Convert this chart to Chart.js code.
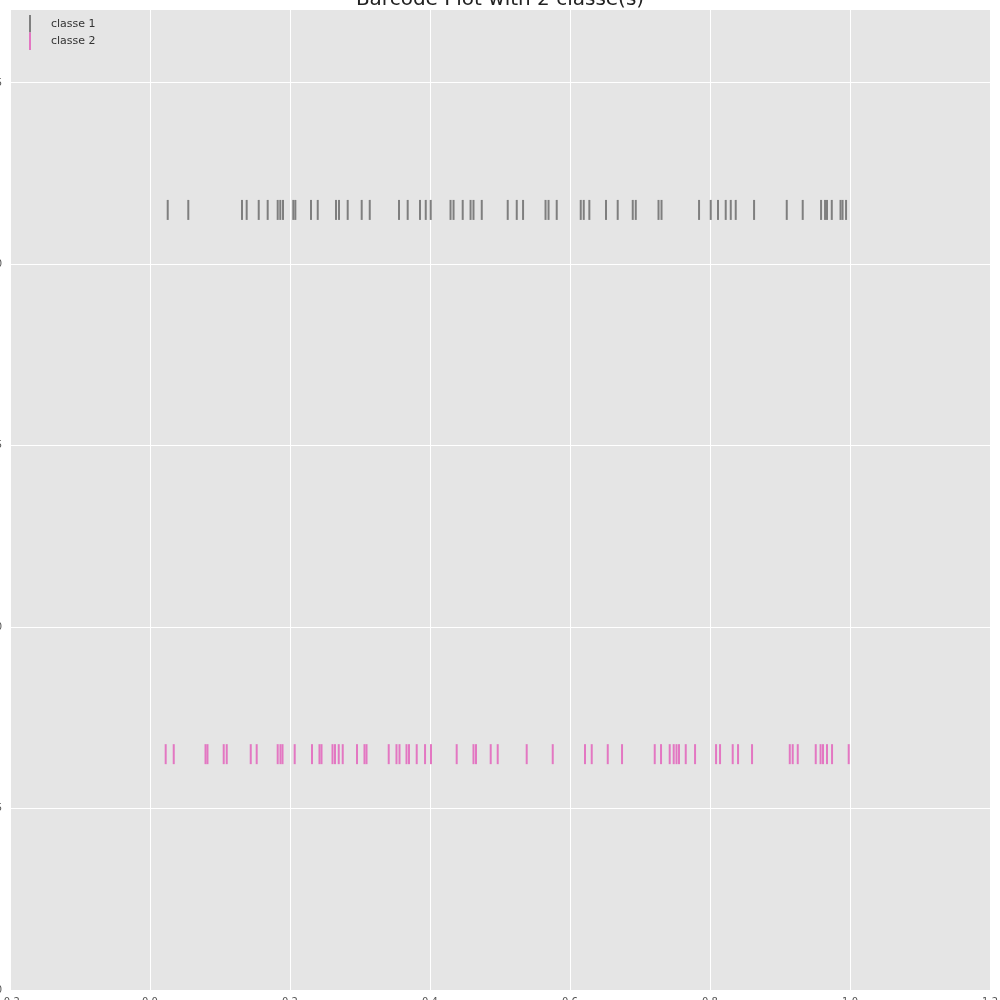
<!DOCTYPE html>
<html>
<head>
<meta charset="utf-8">
<script src="https://cdn.jsdelivr.net/npm/chart.js@4/dist/chart.umd.min.js"></script>
<style>
  html, body { margin: 0; padding: 0; background: #ffffff; overflow: hidden; width: 1000px; height: 1000px; }
  #wrap { position: absolute; left: -40px; top: -30px; }
</style>
</head>
<body>
<div id="wrap"><canvas id="c" width="1044" height="1060"></canvas></div>
<script>
const chartTitle = "Barcode Plot with 2 classe(s)";
const classNames = ["classe 1", "classe 2"];
const classY = [2.15, 0.65];
const xTicks = [-0.2, 0.0, 0.2, 0.4, 0.6, 0.8, 1.0, 1.2];
const yTicks = [0.0, 0.5, 1.0, 1.5, 2.0, 2.5];
const xLabels = ["-0.2", "0.0", "0.2", "0.4", "0.6", "0.8", "1.0", "1.2"];
const yLabels = ["0.0", "0.5", "1.0", "1.5", "2.0", "2.5"];

const class1Values = [0.0253, 0.0547, 0.1314, 0.1381, 0.1553, 0.1681, 0.1824, 0.1861, 0.1900,
  0.2047, 0.2076, 0.2300, 0.2396, 0.2657, 0.2700, 0.2824, 0.3024, 0.3139, 0.3557, 0.3681,
  0.3857, 0.3939, 0.4010, 0.4293, 0.4336, 0.4467, 0.4579, 0.4621, 0.4739, 0.5110, 0.5239,
  0.5329, 0.5650, 0.5693, 0.5810, 0.6153, 0.6196, 0.6276, 0.6514, 0.6681, 0.6896, 0.6939,
  0.7264, 0.7307, 0.7843, 0.8010, 0.8114, 0.8224, 0.8296, 0.8367, 0.8629, 0.9096, 0.9324,
  0.9586, 0.9643, 0.9671, 0.9739, 0.9864, 0.9893, 0.9943];
const class2Values = [0.0224, 0.0339, 0.0793, 0.0821, 0.1053, 0.1096, 0.1439, 0.1524, 0.1824,
  0.1864, 0.1893, 0.2067, 0.2314, 0.2421, 0.2450, 0.2607, 0.2643, 0.2696, 0.2753, 0.2957,
  0.3064, 0.3093, 0.3410, 0.3521, 0.3564, 0.3664, 0.3700, 0.3810, 0.3929, 0.4014, 0.4381,
  0.4621, 0.4657, 0.4867, 0.4967, 0.5381, 0.5753, 0.6214, 0.6310, 0.6539, 0.6743, 0.7210,
  0.7300, 0.7424, 0.7481, 0.7521, 0.7557, 0.7653, 0.7786, 0.8086, 0.8143, 0.8324, 0.8400,
  0.8600, 0.9139, 0.9181, 0.9253, 0.9510, 0.9579, 0.9614, 0.9671, 0.9743, 0.9981];

const classValues = [class1Values, class2Values];
const classColors = ["#7f7f7f", "#e377c2"];

const datasets = classValues.map((vals, i) => ({
  label: classNames[i],
  data: vals.map(v => ({ x: v, y: classY[i] })),
  pointStyle: 'line',
  rotation: 90,
  pointRadius: 10,
  pointHoverRadius: 10,
  borderColor: classColors[i],
  backgroundColor: classColors[i],
  pointBorderWidth: 2,
  borderWidth: 2,
  showLine: false
}));

const bgPlugin = {
  id: 'bg',
  beforeDraw(chart) {
    const { ctx, chartArea: a } = chart;
    ctx.save();
    ctx.fillStyle = '#e5e5e5';
    ctx.fillRect(a.left, a.top, a.right - a.left, a.bottom - a.top);
    ctx.restore();
  }
};

const decoPlugin = {
  id: 'deco',
  afterDraw(chart) {
    const ctx = chart.ctx;
    const a = chart.chartArea;
    ctx.save();
    // title
    ctx.fillStyle = '#222222';
    ctx.font = '20px "DejaVu Sans"';
    ctx.textAlign = 'center';
    ctx.textBaseline = 'alphabetic';
    ctx.fillText(chartTitle, (a.left + a.right) / 2, a.top - 5);
    // legend
    const lx = a.left + 20;
    const ly = a.top + 5;
    ctx.lineWidth = 2;
    classNames.forEach((name, i) => {
      ctx.strokeStyle = classColors[i];
      ctx.beginPath();
      ctx.moveTo(lx, ly + i * 17.5);
      ctx.lineTo(lx, ly + (i + 1) * 17.5);
      ctx.stroke();
      ctx.fillStyle = '#333333';
      ctx.font = '11px "DejaVu Sans"';
      ctx.textAlign = 'left';
      ctx.textBaseline = 'middle';
      ctx.fillText(name, lx + 21, ly + i * 17.5 + 9);
    });
    ctx.restore();
  }
};

new Chart(document.getElementById('c'), {
  type: 'scatter',
  data: { datasets },
  plugins: [bgPlugin, decoPlugin],
  options: {
    responsive: false,
    animation: false,
    devicePixelRatio: 1,
    layout: { padding: { top: 40, right: 10, left: 0, bottom: 0 } },
    plugins: { legend: { display: false }, tooltip: { enabled: false }, title: { display: false } },
    scales: {
      x: {
        type: 'linear',
        min: -0.2,
        max: 1.2,
        afterBuildTicks: s => { s.ticks = xTicks.map(v => ({ value: v })); },
        afterFit: s => { s.height = 40; },
        grid: { color: '#ffffff', lineWidth: 1, drawTicks: false },
        border: { display: false },
        ticks: {
          padding: 6,
          color: '#555555',
          font: { family: 'DejaVu Sans', size: 10 },
          maxRotation: 0,
          autoSkip: false,
          callback: (v, i) => xLabels[i]
        }
      },
      y: {
        type: 'linear',
        min: 0,
        max: 2.701,
        afterBuildTicks: s => { s.ticks = yTicks.map(v => ({ value: v })); },
        afterFit: s => { s.width = 50; },
        grid: { color: '#ffffff', lineWidth: 1, drawTicks: false },
        border: { display: false },
        ticks: {
          padding: 8,
          color: '#555555',
          font: { family: 'DejaVu Sans', size: 10 },
          autoSkip: false,
          callback: (v, i) => yLabels[i]
        }
      }
    }
  }
});
</script>
</body>
</html>
